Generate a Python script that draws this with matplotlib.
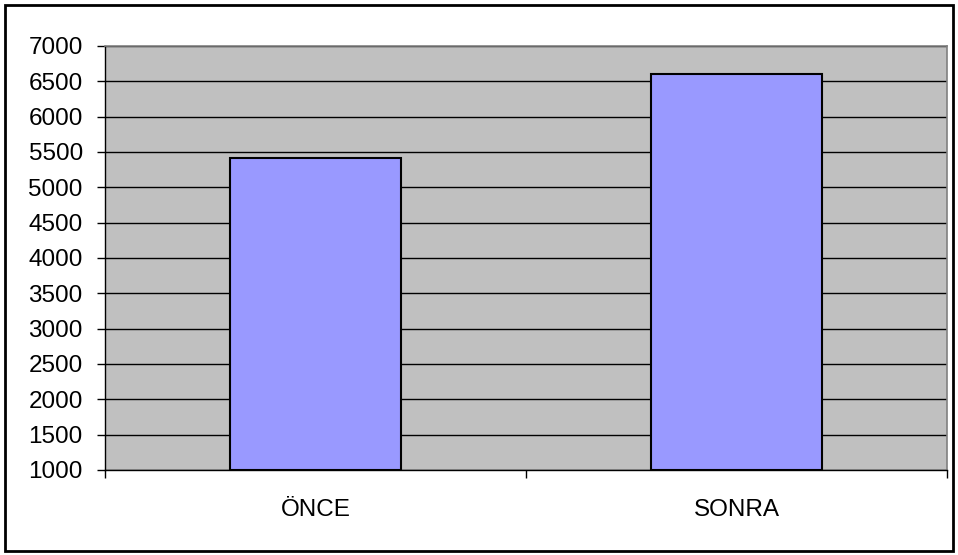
import matplotlib
matplotlib.use("Agg")
import matplotlib.pyplot as plt
from matplotlib.patches import Rectangle

categories = ["ÖNCE", "SONRA"]
values = [5410, 6610]
yticks = list(range(1000, 7001, 500))

plt.rcParams['font.family'] = ['Liberation Sans', 'DejaVu Sans']

fig = plt.figure(figsize=(9.58, 5.55), dpi=100)
ax = fig.add_axes([105/958, 85/555, 842/958, 424/555])
ax.set_facecolor('#C0C0C0')

x = list(range(len(categories)))
ax.bar(x, [v - 1000 for v in values], bottom=1000, width=0.406,
       color='#9999FF', edgecolor='black', linewidth=1.5, zorder=3)

ax.set_xlim(-0.5, len(categories) - 0.5)
ax.set_ylim(1000, 7000)
ax.set_yticks(yticks)
ax.set_yticklabels([str(t) for t in yticks])
ax.yaxis.grid(True, color='black', linewidth=1.0, zorder=1)
ax.set_axisbelow(True)

ax.set_xticks(x)
ax.set_xticklabels(categories)
ax.set_xticks([i - 0.5 for i in range(len(categories) + 1)], minor=True)
ax.tick_params(axis='x', which='major', length=0, pad=21, labelsize=17.5)
ax.tick_params(axis='x', which='minor', length=6, width=1, direction='out', color='black')
ax.tick_params(axis='y', length=6, width=1, direction='out', pad=10, labelsize=17.5, color='black')

for s in ['top', 'right']:
    ax.spines[s].set_color('#808080')
    ax.spines[s].set_linewidth(1.2)
for s in ['left', 'bottom']:
    ax.spines[s].set_color('black')
    ax.spines[s].set_linewidth(1.0)

fig.patches.append(Rectangle((5/958, 4/555), 948/958, 546/555, transform=fig.transFigure,
                             fill=False, edgecolor='black', linewidth=2))

fig.savefig("out.png", dpi=100, facecolor='white')
